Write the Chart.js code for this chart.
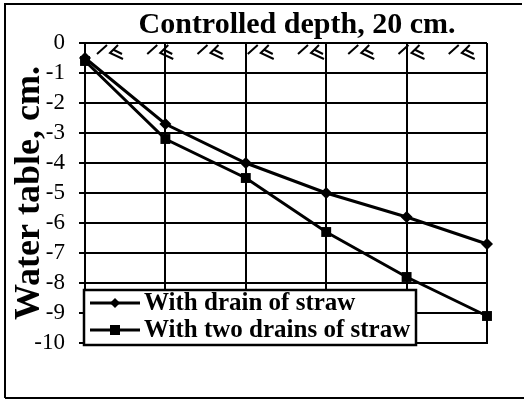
<!DOCTYPE html>
<html><head><meta charset="utf-8">
<script src="https://cdn.jsdelivr.net/npm/chart.js@4/dist/chart.umd.min.js"></script>
<style>html,body{margin:0;padding:0;background:#fff;}#wrap{width:524px;height:400px;position:relative;}</style>
</head><body><div id="wrap"><canvas id="c" width="524" height="400"></canvas></div>
<script>
// ---- data ----
const positions = ['1', '2', '3', '4', '5', '6'];
const drainOfStraw = [-0.5, -2.7, -4.0, -5.0, -5.8, -6.7];
const twoDrainsOfStraw = [-0.6, -3.2, -4.5, -6.3, -7.8, -9.1];
const seriesNames = ['With drain of straw', 'With two drains of straw'];
const yTickValues = [0, -1, -2, -3, -4, -5, -6, -7, -8, -9, -10];
const titleText = 'Controlled depth, 20 cm.';
const yAxisTitle = 'Water table, cm.';

const SERIF = "'Liberation Serif', 'DejaVu Serif', serif";

const decorPlugin = {
  id: 'decor',
  afterLayout(chart) {
    if (chart.titleBlock) { chart.titleBlock.left += 11; chart.titleBlock.right += 11; }
  },
  beforeDatasetsDraw(chart) {
    const ctx = chart.ctx, a = chart.chartArea;
    ctx.save();
    ctx.strokeStyle = '#000';
    ctx.lineWidth = 2;
    ctx.lineCap = 'butt';
    const step = (a.right - a.left) / 8;
    for (let i = 0; i < 8; i++) {
      const x0 = a.left + 12 + i * step, t = a.top;
      ctx.beginPath();
      ctx.moveTo(x0, t + 11); ctx.lineTo(x0 + 10, t + 2);
      ctx.moveTo(x0 + 21, t + 2); ctx.lineTo(x0 + 13, t + 10); ctx.lineTo(x0 + 26, t + 16);
      ctx.moveTo(x0 + 17, t + 7); ctx.lineTo(x0 + 25, t + 11);
      ctx.stroke();
    }
    ctx.restore();
  },
  afterDraw(chart) {
    const ctx = chart.ctx;
    ctx.save();
    // outer frame
    ctx.strokeStyle = '#000';
    ctx.lineWidth = 2;
    ctx.beginPath();
    ctx.moveTo(5, 398); ctx.lineTo(5, 4); ctx.lineTo(522, 4);
    ctx.moveTo(5, 398); ctx.lineTo(524, 398);
    ctx.stroke();
    // legend
    const bx = 84, by = 290, bw = 332, bh = 55;
    ctx.fillStyle = '#fff';
    ctx.fillRect(bx, by, bw, bh);
    ctx.lineWidth = 2.5;
    ctx.strokeRect(bx, by, bw, bh);
    const rows = [303, 330];
    chart.data.datasets.forEach((ds, i) => {
      const y = rows[i];
      ctx.strokeStyle = '#000';
      ctx.lineWidth = 3;
      ctx.beginPath(); ctx.moveTo(90, y); ctx.lineTo(140, y); ctx.stroke();
      ctx.fillStyle = '#000';
      if (ds.pointStyle === 'rect') {
        ctx.fillRect(115 - 5, y - 5, 10, 10);
      } else {
        ctx.beginPath();
        ctx.moveTo(115, y - 5); ctx.lineTo(120, y); ctx.lineTo(115, y + 5); ctx.lineTo(110, y);
        ctx.closePath(); ctx.fill();
      }
      ctx.font = "bold 25px " + SERIF;
      ctx.textBaseline = 'middle';
      ctx.textAlign = 'left';
      ctx.fillText(ds.label, 144, y + 1);
    });
    ctx.restore();
  }
};

new Chart(document.getElementById('c'), {
  type: 'line',
  data: {
    labels: positions,
    datasets: [
      {
        label: seriesNames[0], data: drainOfStraw,
        borderColor: '#000', backgroundColor: '#000', borderWidth: 3,
        pointStyle: 'rectRot', pointRadius: 6, pointBorderWidth: 0, tension: 0
      },
      {
        label: seriesNames[1], data: twoDrainsOfStraw,
        borderColor: '#000', backgroundColor: '#000', borderWidth: 3,
        pointStyle: 'rect', pointRadius: 7, pointBorderWidth: 0, tension: 0
      }
    ]
  },
  options: {
    responsive: false,
    animation: false,
    devicePixelRatio: 1,
    layout: { padding: { left: 0, right: 37, top: 0, bottom: 57 } },
    plugins: {
      legend: { display: false },
      tooltip: { enabled: false },
      title: {
        display: true, text: titleText, color: '#000', fullSize: false,
        font: { family: SERIF, size: 30, weight: 'bold', lineHeight: 1.2 },
        padding: { top: 7, bottom: 0 }
      }
    },
    scales: {
      x: {
        type: 'category', offset: false,
        ticks: { display: false },
        grid: { color: '#000', lineWidth: 2, drawTicks: false },
        border: { display: true, color: '#000', width: 2 },
        afterFit(s) { s.height = 0; }
      },
      y: {
        min: -10, max: 0,
        afterBuildTicks(s) { s.ticks = yTickValues.map(v => ({ value: v })); },
        ticks: { color: '#000', font: { family: SERIF, size: 23, lineHeight: 1 }, padding: 14, autoSkip: false },
        grid: { color: '#000', lineWidth: 2, tickLength: 6 },
        border: { display: true, color: '#000', width: 2 },
        title: {
          display: true, text: yAxisTitle, color: '#000',
          font: { family: SERIF, size: 36, weight: 'bold', lineHeight: 1.2 },
          padding: { top: 8, bottom: 0 }
        },
        afterFit(s) { s.width = 85; }
      }
    }
  },
  plugins: [decorPlugin]
});
</script></body></html>
